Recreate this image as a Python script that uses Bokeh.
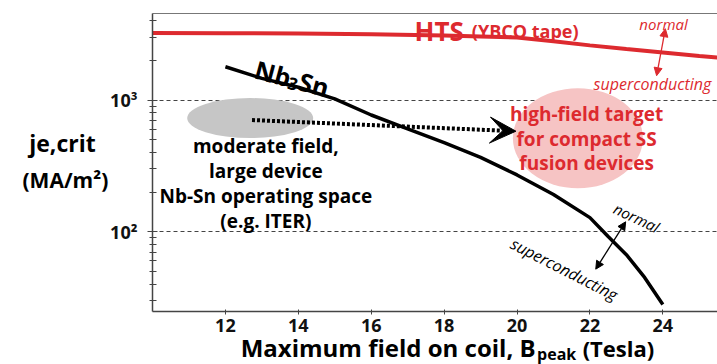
from bokeh.plotting import figure
from bokeh.models import (Label, Arrow, NormalHead, VeeHead, FixedTicker,
                          LinearAxis)
from bokeh.core.properties import value
from bokeh.embed import file_html
from bokeh.resources import INLINE

# ---------------- data ----------------
b_nb3sn = [12, 13, 14, 15, 16, 17, 18, 19, 20, 21, 22, 22.5, 23, 23.5, 24]
j_nb3sn = [1790, 1460, 1250, 1020, 770, 605, 475, 367, 270, 192, 128, 92, 67, 45, 28]

b_hts = [10, 12, 14, 16, 18, 19, 20, 21, 22, 23, 24, 25, 25.5]
j_hts = [3230, 3220, 3200, 3160, 3090, 3040, 2980, 2800, 2600, 2440, 2300, 2160, 2100]

# operating regions (centre field, centre current density)
region_b = [12.68, 21.67]
region_j = [730, 513]

# dotted "move to high field" arrow
move_b = [12.73, 19.97]
move_j = [705, 580]

x_ticks = [12, 14, 16, 18, 20, 22, 24]
y_ticks = [100, 1000]
y_tick_labels = {100: "10²", 1000: "10³"}
y_minor = [30, 40, 50, 60, 70, 80, 90, 200, 300, 400, 500, 600, 700, 800, 900,
           2000, 3000, 4000]

RED = "#dd2a2f"
FONT = "Open Sans"

p = figure(width=717, height=364, x_range=(10, 25.5), y_range=(24.8, 4540),
           y_axis_type="log", output_backend="svg", toolbar_location=None,
           min_border_left=152, min_border_right=0, min_border_top=13,
           min_border_bottom=53, outline_line_color=None,
           background_fill_color="white", border_fill_color="white")

# ---------------- axes ----------------
p.xaxis.ticker = FixedTicker(ticks=x_ticks)
p.xaxis.major_label_text_font = FONT
p.xaxis.major_label_text_font_style = "bold"
p.xaxis.major_label_text_font_size = "18px"
p.xaxis.major_label_text_color = "#111111"
p.xaxis.major_label_standoff = 4
p.xaxis.major_tick_in = 2
p.xaxis.major_tick_out = 3
p.xaxis.minor_tick_line_color = None
p.xaxis.axis_line_color = "#444444"
p.xaxis.axis_line_width = 1.5
p.xaxis.major_tick_line_color = "#444444"

p.yaxis.ticker = FixedTicker(ticks=y_ticks, minor_ticks=y_minor)
p.yaxis.major_label_overrides = y_tick_labels
p.yaxis.major_label_text_font = FONT
p.yaxis.major_label_text_font_style = "bold"
p.yaxis.major_label_text_font_size = "18px"
p.yaxis.major_label_text_color = "#111111"
p.yaxis.major_label_standoff = 10
p.yaxis.major_tick_in = 5
p.yaxis.major_tick_out = 5
p.yaxis.minor_tick_in = 4
p.yaxis.minor_tick_out = 3
p.yaxis.axis_line_color = "#444444"
p.yaxis.axis_line_width = 1.5
p.yaxis.major_tick_line_color = "#444444"
p.yaxis.minor_tick_line_color = "#444444"

top = LinearAxis(ticker=FixedTicker(ticks=[]), axis_line_color="#777777",
                 axis_line_width=1, major_tick_line_color=None,
                 minor_tick_line_color=None)
p.add_layout(top, "above")

p.xgrid.grid_line_color = None
p.ygrid.ticker = FixedTicker(ticks=y_ticks)
p.ygrid.grid_line_color = "#444444"
p.ygrid.grid_line_dash = "4 3"
p.ygrid.grid_line_width = 1

# ---------------- regions ----------------
p.ellipse(x=[region_b[0]], y=[region_j[0]], width=126, height=40,
          width_units="screen", height_units="screen",
          fill_color="#c6c6c6", line_color=None)
p.ellipse(x=[region_b[1]], y=[region_j[1]], width=130, height=100,
          width_units="screen", height_units="screen",
          fill_color="#f6c4c4", line_color=None)

# ---------------- curves ----------------
p.line(b_hts, j_hts, line_color=RED, line_width=4)
p.line(b_nb3sn, j_nb3sn, line_color="black", line_width=3.5)

# dotted arrow
p.add_layout(Arrow(x_start=move_b[0], y_start=move_j[0], x_end=move_b[1], y_end=move_j[1],
                   line_width=4, line_dash="3 2", line_color="black",
                   end=VeeHead(size=26, fill_color="black", line_color="black")))

# red normal/superconducting arrow
p.add_layout(Arrow(x_start=24.07, y_start=3480, x_end=23.83, y_end=1530,
                   line_width=1.3, line_color=RED,
                   start=NormalHead(size=8, fill_color=RED, line_color=RED),
                   end=NormalHead(size=8, fill_color=RED, line_color=RED)))
# black normal/superconducting arrow
p.add_layout(Arrow(x_start=22.98, y_start=119, x_end=22.16, y_end=52,
                   line_width=1.3, line_color="black",
                   start=NormalHead(size=8, fill_color="black", line_color="black"),
                   end=NormalHead(size=8, fill_color="black", line_color="black")))

# ---------------- labels inside the frame ----------------
def lab(x, y, text, size, color="black", style="bold", align="left",
        baseline="alphabetic", angle=0, xo=0, yo=0):
    p.add_layout(Label(x=x, y=y, text=text, text_font=FONT, text_font_size=size,
                       text_font_style=style, text_color=color, text_align=align,
                       text_baseline=baseline, angle=angle, angle_units="deg",
                       x_offset=xo, y_offset=yo))

lab(17.19, 3340, "HTS", "26px", RED)
lab(18.76, 3340, "(YBCO tape)", "18px", RED)
lab(24.02, 3800, "normal", "15px", RED, style="italic", align="center", baseline="middle")
lab(22.10, 1330, "superconducting", "16px", RED, style="italic", baseline="middle")

# Nb3Sn label, rotated
lab(12.83, 1742, "Nb", "25px", angle=-15)
lab(12.83, 1742, "3", "17px", angle=-15, xo=32.5, yo=-14)
lab(12.83, 1742, "Sn", "25px", angle=-15, xo=44, yo=-11.8)

for txt, jj in zip(["moderate field,", "large device", "Nb-Sn operating space", "(e.g. ITER)"],
                   [450, 290, 187, 121]):
    lab(13.11, jj, txt, "19px", align="center", baseline="middle")

for txt, jj in zip(["high-field target", "for compact SS", "fusion devices"],
                   [790, 510, 330]):
    lab(21.91, jj, txt, "19px", RED, align="center", baseline="middle")

lab(23.28, 128, "normal", "15px", style="italic", align="center", baseline="middle", angle=-25)
lab(21.30, 52, "superconducting", "16px", style="italic", align="center", baseline="middle", angle=-27)

# ---------------- axis titles (outside the frame, overlay level) ----------------
def otext(x, y, text, size, align="left", baseline="middle"):
    p.text(x=[x], y=[y], text=[text], text_font=value(FONT), text_font_size=size,
           text_font_style="bold", text_color="black", text_align=align,
           text_baseline=baseline, level="overlay")

otext(7.53, 472, "je,crit", "23px", align="center")
otext(7.61, 248, "(MA/m²)", "21px", align="center")

otext(20.51, 13.2, "Maximum field on coil, B", "24px", align="right")
otext(20.55, 11.9, "peak", "16px")
otext(21.80, 13.2, "(Tesla)", "22px")

html = file_html(p, INLINE, title="chart")
open("out.html", "w").write(html)
